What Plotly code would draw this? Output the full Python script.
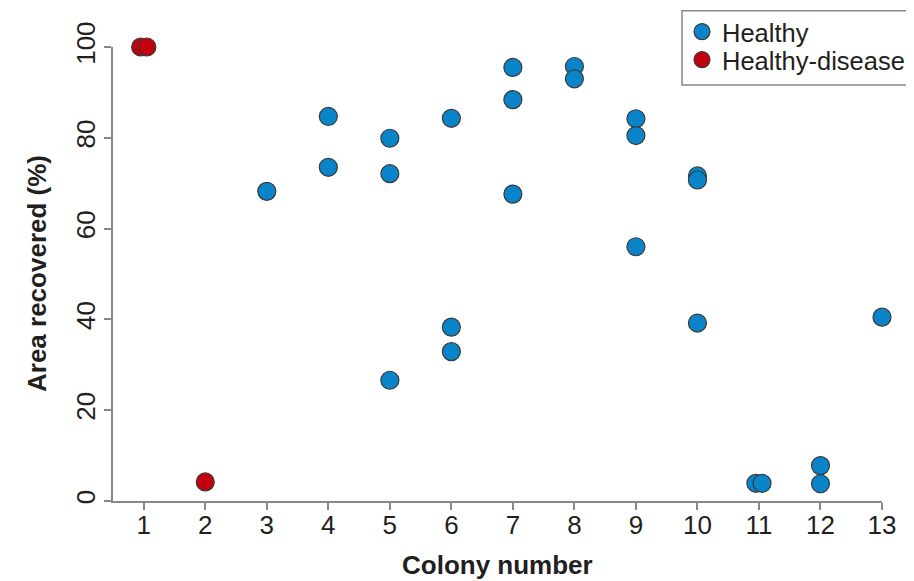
import plotly.graph_objects as go

healthy_x = [3, 4, 4, 5, 5, 5, 6, 6, 6, 7, 7, 7, 8, 8, 9, 9, 9, 10, 10, 10, 10.95, 11.05, 12, 12, 13]
healthy_y = [68.2, 84.7, 73.5, 79.9, 72.1, 26.6, 84.3, 38.3, 32.9, 95.5, 88.4, 67.6, 95.7, 93.0, 84.2, 80.5, 56.0, 71.6, 70.7, 39.2, 3.9, 3.9, 7.8, 3.8, 40.5]

disease_x = [0.95, 1.05, 2]
disease_y = [100, 100, 4.2]

x_ticks = list(range(1, 14))
y_ticks = [0, 20, 40, 60, 80, 100]

# page has an 8px body margin, so the figure is drawn 8px smaller and offset
W, H = 906, 573
L, R, T, B = 105, 2, 39, 80
PLOT_RIGHT = 874
PW = W - L - R
PH = H - T - B
XDOM = (PLOT_RIGHT - L) / PW


def px(fx):
    return (fx - L) / PW


def py(fy):
    return (H - B - fy) / PH


font_col = "#231f20"
marker_line = dict(color="#3a3a3a", width=1.2)

fig = go.Figure()
fig.add_trace(go.Scatter(x=healthy_x, y=healthy_y, mode="markers", name="Healthy",
                         marker=dict(size=18, color="#0a84c8", line=marker_line),
                         cliponaxis=False, legend="legend"))
fig.add_trace(go.Scatter(x=disease_x, y=disease_y, mode="markers", name="Healthy-disease",
                         marker=dict(size=18, color="#c2000f", line=marker_line),
                         cliponaxis=False, legend="legend2"))

leg_common = dict(xanchor="left", yanchor="middle", bgcolor="rgba(0,0,0,0)", borderwidth=0,
                  font=dict(size=25.5, color=font_col), itemsizing="trace", tracegroupgap=0)

fig.update_layout(
    width=W, height=H,
    margin=dict(l=L, r=R, t=T, b=B, autoexpand=False),
    paper_bgcolor="white", plot_bgcolor="white",
    font=dict(family="Liberation Sans, Arial, sans-serif", color=font_col),
    showlegend=True,
    legend=dict(x=px(674), y=py(24), **leg_common),
    legend2=dict(x=px(674), y=py(52), **leg_common),
    shapes=[dict(type="rect", xref="paper", yref="paper",
                 x0=px(674), x1=px(903.5), y0=py(77), y1=py(2.7),
                 line=dict(color="#888888", width=1.5), fillcolor="white", layer="below")],
    annotations=[
        dict(text="<b>Colony number</b>", xref="paper", yref="paper", x=XDOM / 2, y=0,
             xanchor="center", yanchor="middle", yshift=-64, showarrow=False,
             font=dict(size=26, color=font_col)),
        dict(text="<b>Area recovered (%)</b>", xref="paper", yref="paper", x=0, y=0.5,
             xanchor="center", yanchor="middle", xshift=-76, textangle=-90, showarrow=False,
             font=dict(size=26, color=font_col)),
    ],
    xaxis=dict(domain=[0, XDOM], range=[0.5, 13], tickvals=x_ticks, ticktext=[str(t) for t in x_ticks],
               automargin=False,
               showgrid=False, zeroline=False, showline=True, linecolor="#888888", linewidth=1.5,
               ticks="outside", ticklen=7, tickcolor="#888888", tickwidth=1.5,
               ticklabelstandoff=-7,
               tickfont=dict(size=26, color=font_col)),
    yaxis=dict(range=[0, 100], tickvals=y_ticks, ticktext=[str(t) for t in y_ticks],
               automargin=False,
               showgrid=False, zeroline=False, showline=True, linecolor="#888888", linewidth=1.5,
               ticks="outside", ticklen=7, tickcolor="#888888", tickwidth=1.5,
               tickangle=-90, ticklabelstandoff=-1,
               tickfont=dict(size=26, color=font_col)),
)

fig.write_html("out.html")
